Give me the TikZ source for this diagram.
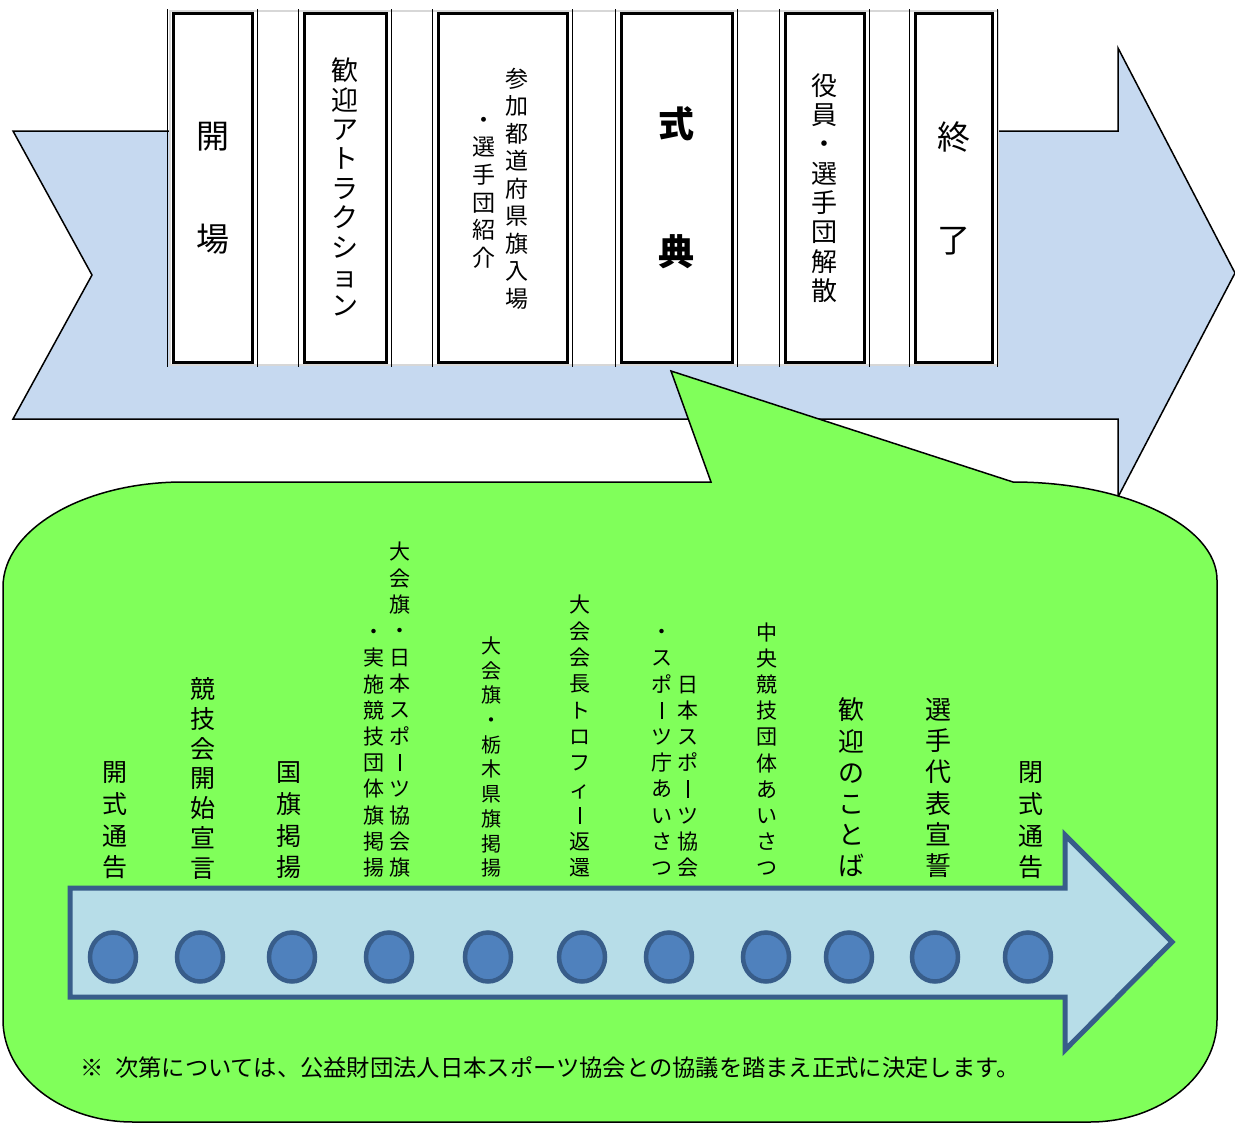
\documentclass[tikz,border=0pt]{standalone}
\usepackage{fontspec}
\setmainfont{Noto Sans CJK JP}
\usetikzlibrary{shapes.geometric}
\definecolor{chev}{RGB}{198,217,240}
\definecolor{callout}{RGB}{128,255,90}
\definecolor{arrfill}{RGB}{183,221,232}
\definecolor{arrline}{RGB}{56,93,138}
\definecolor{dotfill}{RGB}{79,129,189}
\definecolor{bandline}{RGB}{215,215,215}
\newcommand\vbar{\makebox[1em]{\rule[-0.03em]{0.075em}{0.82em}}}
\newcommand\V[1]{\vphantom{国}#1\vphantom{国}}
\begin{document}
\begin{tikzpicture}[x=1pt,y=-1pt,
  vt/.style={align=center, inner sep=0pt},
  box/.style={draw, line width=3pt, fill=white, inner sep=0pt, minimum height=348pt, align=center},
  dot/.style={ellipse, draw=arrline, fill=dotfill, line width=4.5pt, minimum width=46pt, minimum height=49pt, inner sep=0pt},
  thin/.style={line width=1.2pt}]
\useasboundingbox (0,0) rectangle (1235,1124);

% big chevron arrow
\draw[fill=chev, line width=1.5pt, line join=miter]
  (13,131) -- (1118,131) -- (1118,48) -- (1235,273) -- (1118,497) -- (1118,419) -- (13,419) -- (92,275) -- cycle;

% white band behind the boxes
\draw[fill=white, draw=bandline, line width=1.2pt] (170,11) rectangle (998,365);

% boxes
\node[box, minimum width=79pt, font=\fontsize{33}{103}\selectfont] (b1) at (212.5,188) {\V{開\\場}};
\node[box, minimum width=82pt, font=\fontsize{27}{29.4}\selectfont] (b2) at (345,188) {\V{歓\\迎\\ア\\ト\\ラ\\ク\\シ\\ョ\\ン}};
\node[box, minimum width=129pt] (b3) at (502.5,188) {};
\node[box, minimum width=111pt, font=\fontsize{36}{128}\selectfont\bfseries] (b4) at (676.5,188) {\V{式\\典}};
\node[box, minimum width=79pt, font=\fontsize{26}{29.3}\selectfont] (b5) at (824.5,188) {\V{役\\員\\・\\選\\手\\団\\解\\散}};
\node[box, minimum width=77pt, font=\fontsize{33}{103}\selectfont] (b6) at (953.5,188) {\V{終\\了}};
\node[vt, font=\fontsize{23}{27.5}\selectfont] (b3r) at (517,188.5) {\V{参\\加\\都\\道\\府\\県\\旗\\入\\場}};
\node[vt, font=\fontsize{23}{27.6}\selectfont] (b3l) at (484,189) {\V{・\\選\\手\\団\\紹\\介}};

\foreach \b in {b1,b2,b3,b4,b5,b6}{
  \draw[thin] ([xshift=-4pt,yshift=3pt]\b.north west) -- ([xshift=-4pt,yshift=-3pt]\b.south west);
  \draw[thin] ([xshift=4pt,yshift=3pt]\b.north east) -- ([xshift=4pt,yshift=-3pt]\b.south east);
}

% green callout
\draw[fill=callout, line width=1.5pt, line join=miter]
  (183,482) -- (711,482) -- (671,371) -- (1013,482)
  .. controls (1126,482) and (1217,526) .. (1217,580)
  -- (1217,1020)
  .. controls (1217,1076) and (1160,1122) .. (1090,1122)
  -- (133,1122)
  .. controls (61,1122) and (3,1076) .. (3,1020)
  -- (3,587)
  .. controls (3,529) and (84,482) .. (183,482) -- cycle;

% timeline arrow
\draw[fill=arrfill, draw=arrline, line width=5pt, line join=miter]
  (70,888) -- (1065,888) -- (1065,835) -- (1172,942) -- (1065,1050) -- (1065,997) -- (70,997) -- cycle;

% dots
\node[dot] (c1) at (113,957) {};
\node[dot] (c2) at (200,957) {};
\node[dot] (c3) at (292,957) {};
\node[dot] (c4) at (389,957) {};
\node[dot] (c5) at (488,957) {};
\node[dot] (c6) at (582,957) {};
\node[dot] (c7) at (669,957) {};
\node[dot] (c8) at (766,957) {};
\node[dot] (c9) at (849,957) {};
\node[dot] (c10) at (935,957) {};
\node[dot] (c11) at (1028,957) {};

% labels
\node[vt, font=\fontsize{25}{31.7}\selectfont] (l1) at (115,820.5) {\V{開\\式\\通\\告}};
\node[vt, font=\fontsize{25}{29.8}\selectfont] (l2) at (203,778.5) {\V{競\\技\\会\\開\\始\\宣\\言}};
\node[vt, font=\fontsize{25}{31.7}\selectfont] (l3) at (289,820.5) {\V{国\\旗\\掲\\揚}};
\node[vt, font=\fontsize{21}{26.33}\selectfont] (l4a) at (400,710) {\V{大\\会\\旗\\・\\日\\本\\ス\\ポ\\\vbar\\ツ\\協\\会\\旗}};
\node[vt, font=\fontsize{21}{26.2}\selectfont] (l4b) at (374,750) {\V{・\\実\\施\\競\\技\\団\\体\\旗\\掲\\揚}};
\node[vt, font=\fontsize{20}{24.7}\selectfont] (l5) at (491,757) {\V{大\\会\\旗\\・\\栃\\木\\県\\旗\\掲\\揚}};
\node[vt, font=\fontsize{21}{26.3}\selectfont] (l6) at (580,736.5) {\V{大\\会\\会\\長\\ト\\ロ\\フ\\ィ\\\vbar\\返\\還}};
\node[vt, font=\fontsize{21}{26.1}\selectfont] (l7a) at (688,776.5) {\V{日\\本\\ス\\ポ\\\vbar\\ツ\\協\\会}};
\node[vt, font=\fontsize{21}{26.2}\selectfont] (l7b) at (662,750) {\V{・\\ス\\ポ\\\vbar\\ツ\\庁\\あ\\い\\さ\\つ}};
\node[vt, font=\fontsize{21}{26.2}\selectfont] (l8) at (767,750) {\V{中\\央\\競\\技\\団\\体\\あ\\い\\さ\\つ}};
\node[vt, font=\fontsize{26}{31.2}\selectfont] (l9) at (851,788) {\V{歓\\迎\\の\\こ\\と\\ば}};
\node[vt, font=\fontsize{26}{31.2}\selectfont] (l10) at (938,788) {\V{選\\手\\代\\表\\宣\\誓}};
\node[vt, font=\fontsize{25}{31.7}\selectfont] (l11) at (1031,820.5) {\V{閉\\式\\通\\告}};

% footnote
\node[anchor=west, inner sep=0pt, font=\fontsize{23.3}{28}\selectfont] (note) at (80,1068)
  {※\hspace{0.5em}次第については、公益財団法人日本スポーツ協会との協議を踏まえ正式に決定します。};
\end{tikzpicture}
\end{document}
